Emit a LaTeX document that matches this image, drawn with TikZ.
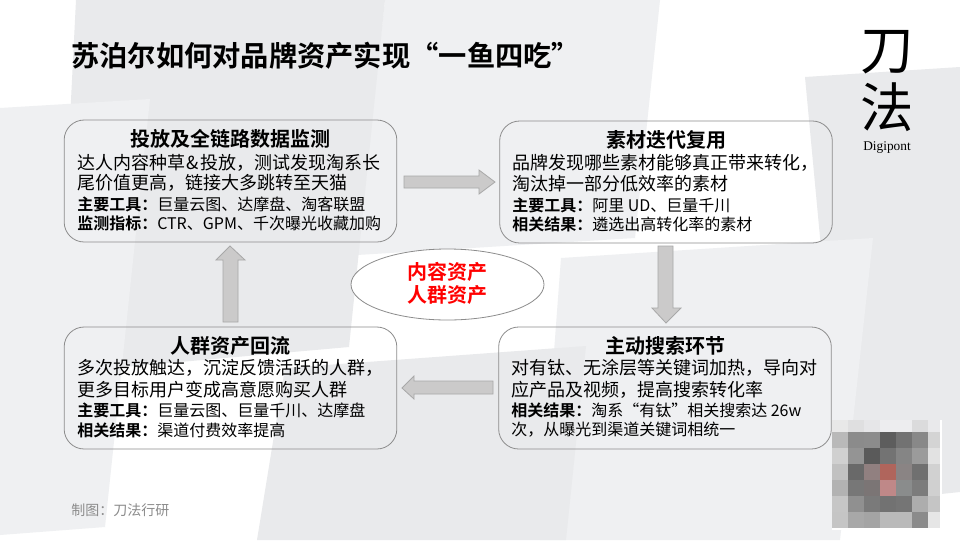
\documentclass[tikz,border=0pt]{standalone}
\usepackage{fontspec}
\usetikzlibrary{shapes.geometric}
\setmainfont{Noto Sans CJK SC}
\newfontfamily\cjkb{Noto Sans CJK SC Bold}
\newfontfamily\latinb{Liberation Serif}
\definecolor{bgdark}{HTML}{E9EAEC}
\definecolor{bglight}{HTML}{EFF0F2}
\definecolor{boxline}{HTML}{8C8C8C}
\definecolor{arrowfill}{HTML}{CBCACA}
\definecolor{arrowline}{HTML}{A8A8A8}
\tikzset{
  bgd/.style={fill=bgdark,draw=none},
  bgl/.style={fill=bglight,draw=none},
  infobox/.style={draw=boxline,line width=0.6pt,rounded corners=15pt,rectangle,minimum width=249.5pt,minimum height=91.5pt,inner sep=0pt},
  blockarrow/.style={fill=arrowfill,draw=arrowline,line width=0.6pt},
  boxhead/.style={font=\fontsize{15}{18}\cjkb,anchor=center,inner sep=0pt},
  boxtext/.style={font=\fontsize{13.5}{16}\selectfont,anchor=west,inner sep=0pt},
  boxsub/.style={font=\fontsize{12}{14}\selectfont,anchor=west,inner sep=0pt},
  corelabel/.style={font=\fontsize{15}{18}\cjkb,text=red,inner sep=0pt},
}
\newcommand{\hd}[1]{{\cjkb #1}}
\begin{document}
\begin{tikzpicture}[x=0.75pt,y=-0.75pt]
\useasboundingbox (0,0) rectangle (960,540);
\fill[white] (0,0) rectangle (960,540);
% background
\path[bgl] (385,0) -- (660,0) -- (635,238) -- (357,255) -- cycle;
\path[bgd] (76,0) -- (385,0) -- (349,347) -- (112,368) -- (66,200) -- cycle;
\path[bgd] (805,77) -- (960,67) -- (960,492) -- (845,504) -- cycle;
\path[bgl] (561,258) -- (873,238) -- (840,540) -- (540,540) -- cycle;
\path[bgd] (285,368) -- (586,346) -- (566,540) -- (257,540) -- cycle;
\path[bgl] (0,108) -- (150,99) -- (105,527) -- (0,535) -- cycle;
% title
\node[font=\fontsize{21.2}{24}\cjkb,anchor=west,inner sep=0pt] (title) at (71,56) {苏泊尔如何对品牌资产实现“一鱼四吃”};
% logo
\node[font=\fontsize{40}{44}\selectfont,inner sep=0pt] (logoa) at (887,52) {刀};
\node[font=\fontsize{40}{44}\selectfont,inner sep=0pt] (logob) at (887,107) {法};
\node[font=\fontsize{10}{11}\latinb,inner sep=0pt] (logoc) at (887,148) {Digipont};
% boxes
\node[infobox] (tl) at (230.5,181) {};
\node[infobox] (tr) at (666,182) {};
\node[infobox] (bl) at (230.5,388) {};
\node[infobox] (br) at (665,388) {};
% texts top-left
\node[boxhead] (tl0) at (230,139) {投放及全链路数据监测};
\node[boxtext] (tl1) at (77,163) {达人内容种草\hspace{1pt}\&\hspace{1.2pt}投放，测试发现淘系长};
\node[boxtext] (tl2) at (77,183) {尾价值更高，链接大多跳转至天猫};
\node[boxsub] (tl3) at (77,204) {\hd{主要工具：}巨量云图、达摩盘、淘客联盟};
\node[boxsub] (tl4) at (77,223) {\hd{监测指标：}CTR、GPM、千次曝光收藏加购};
% top-right
\node[boxhead] (tr0) at (666,140) {素材迭代复用};
\node[boxtext] (tr1) at (512,163) {品牌发现哪些素材能够真正带来转化，};
\node[boxtext] (tr2) at (512,184) {淘汰掉一部分低效率的素材};
\node[boxsub] (tr3) at (512,205) {\hd{主要工具：}阿里 UD、巨量千川};
\node[boxsub] (tr4) at (512,224) {\hd{相关结果：}遴选出高转化率的素材};
% bottom-left
\node[boxhead] (bl0) at (230,346) {人群资产回流};
\node[boxtext] (bl1) at (77,368) {多次投放触达，沉淀反馈活跃的人群，};
\node[boxtext] (bl2) at (77,390) {更多目标用户变成高意愿购买人群};
\node[boxsub] (bl3) at (77,410) {\hd{主要工具：}巨量云图、巨量千川、达摩盘};
\node[boxsub] (bl4) at (77,430) {\hd{相关结果：}渠道付费效率提高};
% bottom-right
\node[boxhead] (br0) at (665,346) {主动搜索环节};
\node[boxtext] (br1) at (511,368) {对有钛、无涂层等关键词加热，导向对};
\node[boxtext] (br2) at (511,390) {应产品及视频，提高搜索转化率};
\node[boxsub] (br3) at (511,410) {\hd{相关结果：}淘系“有钛”相关搜索达 26w};
\node[boxsub] (br4) at (511,430) {次，从曝光到渠道关键词相统一};
% centre ellipse
\node[ellipse,draw=boxline,fill=white,line width=0.6pt,minimum width=144.75pt,minimum height=53.25pt,inner sep=0pt] (core) at (447.5,284.5) {};
\node[corelabel] (corea) at (447.5,272) {内容资产};
\node[corelabel] (coreb) at (447.5,295) {人群资产};
% block arrows
\draw[blockarrow] (404,176) -- (479,176) -- (479,170) -- (495,182) -- (479,194) -- (479,188) -- (404,188) -- cycle;
\draw[blockarrow] (658,246) -- (673,246) -- (673,308) -- (681,308) -- (666,323) -- (652,308) -- (658,308) -- cycle;
\draw[blockarrow] (493,381) -- (414,381) -- (414,376) -- (402,388) -- (414,399) -- (414,394) -- (493,394) -- cycle;
\draw[blockarrow] (223,322) -- (238,322) -- (238,260) -- (245,260) -- (230,246) -- (216,260) -- (223,260) -- cycle;
% footer
\node[font=\fontsize{10.5}{12}\selectfont,text=black!45,anchor=west,inner sep=0pt] (foot) at (71,510) {制图：刀法行研};
% mosaic
\fill[white] (832,420) rectangle (942,530);
\foreach \row [count=\j from 0] in {{E8E8E8,DFDFE0,E6E6E8,EDEDEF,EDEDEF,DBDBDC,E9E9EB},{B9B9B9,8B8B8B,8C8C8C,5D5D5D,727272,888888,D4D4D4},{D0D0D0,949494,5A5A5A,737373,858585,9B9B9B,E2E2E2},{C1C1C1,696969,918080,B0655C,8A8484,707070,D1D1D1},{B2B2B2,777777,7B7575,BF8888,8A8C8C,7C7C7C,D0D0D0},{C6C6C6,909090,7A7A7A,727272,757575,ADADAD,C5C5C5},{C5C5C5,A8A8A8,A4A4A4,BABABA,BABABA,8B8B8B,E6E6E6}}{
  \foreach \c [count=\i from 0] in \row {
    \definecolor{px}{HTML}{\c}
    \pgfmathsetmacro{\pw}{\i==6 ? 12 : 16}
    \pgfmathsetmacro{\ph}{\j==0 ? 12 : 16}
    \pgfmathsetmacro{\py}{\j==0 ? 420 : 416+16*\j}
    \fill[px] ({832+16*\i},\py) rectangle ++(\pw,\ph);
  }
}
\end{tikzpicture}
\end{document}
